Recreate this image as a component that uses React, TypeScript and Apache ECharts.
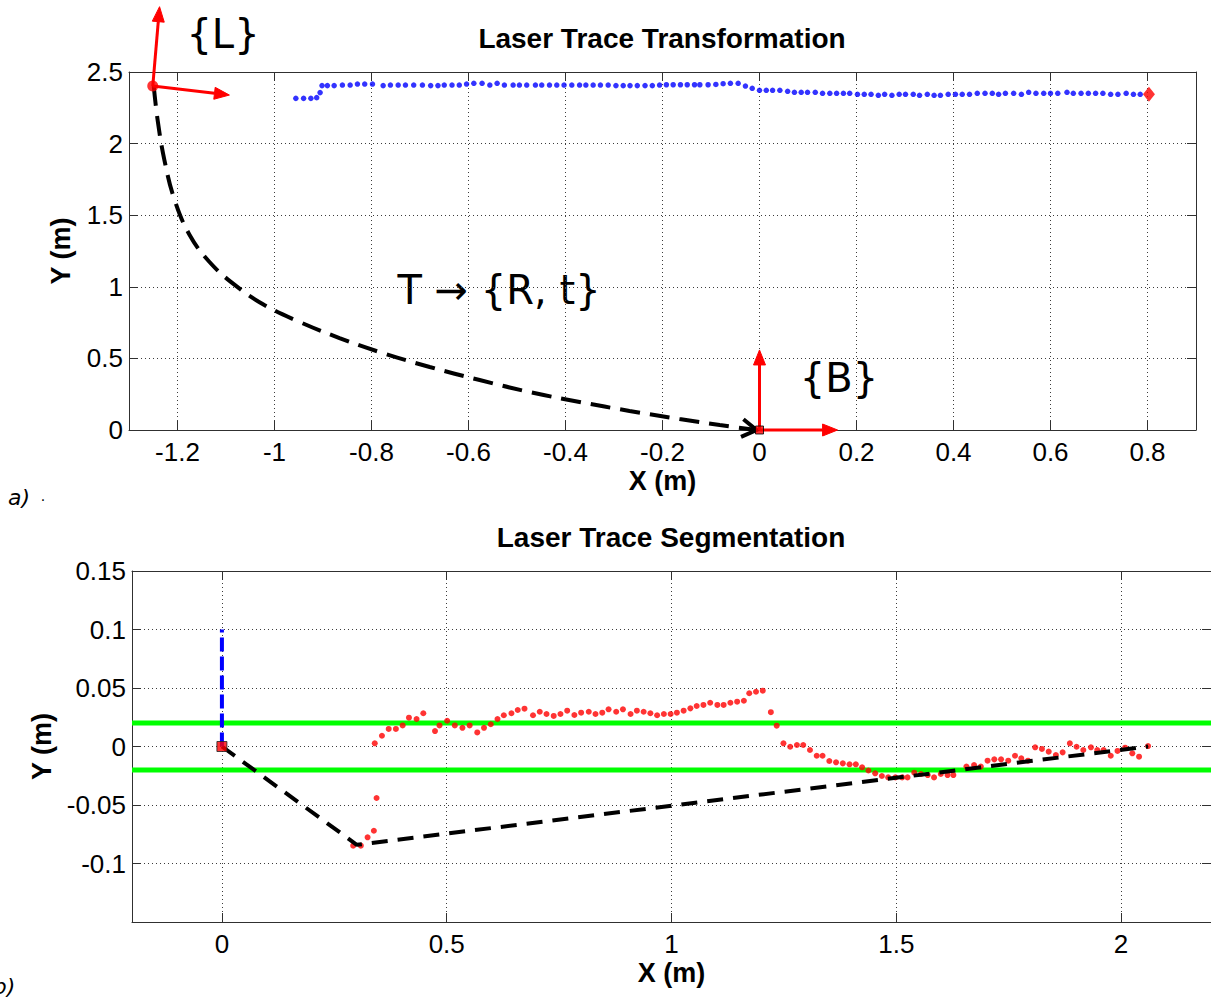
import { useEffect, useRef } from "react";
import * as echarts from "echarts";

const SANS = "'Liberation Sans', Arial, Helvetica, sans-serif";
const ANNO = "'DejaVu Sans', Verdana, sans-serif";

// Laser trace expressed in the base frame {B} (metres)
const traceX = [
  -0.956, -0.94, -0.925, -0.913, -0.906, -0.902, -0.891, -0.877, -0.86, -0.844,
  -0.829, -0.814, -0.798, -0.776, -0.761, -0.745, -0.73, -0.713, -0.695, -0.678,
  -0.663, -0.65, -0.634, -0.619, -0.604, -0.589, -0.572, -0.556, -0.541, -0.526,
  -0.508, -0.495, -0.48, -0.462, -0.449, -0.433, -0.418, -0.403, -0.387, -0.371,
  -0.358, -0.343, -0.328, -0.312, -0.296, -0.281, -0.267, -0.252, -0.236, -0.221,
  -0.206, -0.192, -0.178, -0.163, -0.149, -0.134, -0.123, -0.106, -0.09, -0.075,
  -0.06, -0.044, -0.029, -0.015, 0.0, 0.014, 0.027, 0.042, 0.058, 0.072,
  0.086, 0.099, 0.115, 0.13, 0.145, 0.159, 0.173, 0.186, 0.202, 0.216,
  0.23, 0.245, 0.258, 0.273, 0.288, 0.301, 0.317, 0.33, 0.346, 0.36,
  0.373, 0.389, 0.404, 0.418, 0.433, 0.449, 0.465, 0.48, 0.493, 0.507,
  0.524, 0.54, 0.555, 0.57, 0.586, 0.6, 0.615, 0.634, 0.647, 0.663,
  0.678, 0.693, 0.708, 0.724, 0.739, 0.756, 0.771, 0.785,
];
const traceY = [
  2.316, 2.316, 2.316, 2.321, 2.356, 2.405, 2.405, 2.405, 2.409, 2.409,
  2.416, 2.416, 2.416, 2.405, 2.409, 2.409, 2.409, 2.409, 2.409, 2.405,
  2.405, 2.409, 2.409, 2.409, 2.416, 2.421, 2.421, 2.409, 2.421, 2.409,
  2.409, 2.409, 2.409, 2.409, 2.409, 2.409, 2.409, 2.409, 2.409, 2.409,
  2.409, 2.409, 2.409, 2.409, 2.405, 2.405, 2.405, 2.405, 2.405, 2.405,
  2.409, 2.411, 2.411, 2.411, 2.411, 2.411, 2.411, 2.411, 2.413, 2.418,
  2.421, 2.421, 2.402, 2.386, 2.372, 2.372, 2.372, 2.372, 2.365, 2.358,
  2.358, 2.358, 2.358, 2.351, 2.351, 2.351, 2.351, 2.351, 2.344, 2.344,
  2.344, 2.337, 2.344, 2.337, 2.344, 2.344, 2.344, 2.337, 2.344, 2.337,
  2.337, 2.344, 2.344, 2.344, 2.344, 2.351, 2.351, 2.351, 2.344, 2.351,
  2.351, 2.344, 2.358, 2.351, 2.351, 2.351, 2.351, 2.358, 2.351, 2.351,
  2.351, 2.351, 2.351, 2.344, 2.344, 2.351, 2.344, 2.344,
];
const traceEnd = [0.803, 2.344];

// Transformation T from {L} to {B}
const pathX = [
  -1.249, -1.241, -1.227, -1.206, -1.175, -1.134, -1.082, -1.021, -0.948, -0.866,
  -0.784, -0.68, -0.577, -0.474, -0.371, -0.268, -0.165, -0.082, -0.006,
];
const pathY = [
  2.402, 2.165, 1.885, 1.606, 1.362, 1.173, 1.013, 0.873, 0.754, 0.642,
  0.545, 0.44, 0.349, 0.265, 0.196, 0.133, 0.077, 0.035, 0.0,
];

// Frame axes drawn as arrows: [x0, y0, x1, y1]
const frameArrows = [
  [-1.251, 2.402, -1.237, 2.956],
  [-1.251, 2.402, -1.093, 2.339],
  [0, 0, 0, 0.559],
  [0, 0, 0.161, 0],
];
const laserOrigin = [-1.251, 2.402];
const baseOrigin = [0, 0];

// Segmentation of the trace (metres)
const segX = [
  0.292, 0.309, 0.324, 0.338, 0.344, 0.34, 0.356, 0.371, 0.387, 0.402,
  0.416, 0.433, 0.448, 0.474, 0.484, 0.501, 0.518, 0.535, 0.551, 0.568,
  0.583, 0.598, 0.613, 0.627, 0.644, 0.658, 0.673, 0.692, 0.707, 0.722,
  0.738, 0.753, 0.768, 0.784, 0.799, 0.816, 0.831, 0.846, 0.86, 0.877,
  0.892, 0.909, 0.923, 0.938, 0.953, 0.968, 0.983, 0.998, 1.012, 1.027,
  1.042, 1.056, 1.071, 1.086, 1.102, 1.116, 1.131, 1.146, 1.161, 1.173,
  1.188, 1.203, 1.221, 1.234, 1.249, 1.264, 1.279, 1.293, 1.308, 1.323,
  1.336, 1.351, 1.366, 1.381, 1.396, 1.41, 1.424, 1.438, 1.453, 1.468,
  1.482, 1.498, 1.513, 1.525, 1.54, 1.555, 1.57, 1.584, 1.599, 1.614,
  1.627, 1.656, 1.673, 1.688, 1.703, 1.718, 1.733, 1.749, 1.764, 1.778,
  1.793, 1.809, 1.824, 1.839, 1.855, 1.87, 1.886, 1.901, 1.916, 1.933,
  1.947, 1.961, 1.977, 1.992, 2.009, 2.025, 2.04, 2.06,
];
const segY = [
  -0.0848, -0.0848, -0.0776, -0.072, -0.044, 0.0027, 0.0092, 0.015, 0.015, 0.018,
  0.0246, 0.0235, 0.0284, 0.0132, 0.018, 0.022, 0.018, 0.016, 0.018, 0.012,
  0.016, 0.019, 0.0235, 0.0267, 0.0284, 0.0312, 0.0323, 0.0267, 0.0297, 0.0278,
  0.0261, 0.0278, 0.0306, 0.0269, 0.0289, 0.0297, 0.0278, 0.0289, 0.0318, 0.0297,
  0.0318, 0.0278, 0.0306, 0.0297, 0.0284, 0.0267, 0.0278, 0.0278, 0.0289, 0.0306,
  0.0326, 0.0346, 0.0355, 0.0374, 0.0355, 0.0355, 0.0374, 0.0383, 0.0391, 0.0455,
  0.0468, 0.0477, 0.0293, 0.0178, 0.0027, -0.0002, 0.0013, 0.0013, -0.003, -0.0079,
  -0.0079, -0.0124, -0.0135, -0.0144, -0.0152, -0.0152, -0.0178, -0.0205, -0.0229, -0.0252,
  -0.0264, -0.0264, -0.0264, -0.0264, -0.0224, -0.0235, -0.0244, -0.0264, -0.0235, -0.0244,
  -0.0244, -0.0172, -0.0158, -0.0172, -0.0121, -0.011, -0.011, -0.0121, -0.0079, -0.0101,
  -0.0121, -0.0007, -0.0021, -0.0044, -0.0073, -0.005, 0.0027, -0.0002, -0.003, -0.0007,
  -0.003, -0.003, -0.0079, -0.0038, -0.001, -0.0058, -0.0087, 0.0004,
];
const fitX = [0, 0.3, 2.06];
const fitY = [0, -0.084, 0];
const bandLimits = [0.02, -0.02];
const normalX = [0, 0];
const normalY = [0, 0.1];

const zip = (xs: number[], ys: number[]) => xs.map((x, i) => [x, ys[i]]);

const tickFont = { fontFamily: SANS, fontSize: 26, color: "#000" };
const nameFont = { fontFamily: SANS, fontSize: 27, fontWeight: "bold" as const, color: "#000" };
const boxColor = "#303030";
const gridLine = { show: true, lineStyle: { color: "#3c3c3c", width: 1, type: [1, 3] } };

function xAxisPair(grid: number, min: number, max: number, step: number) {
  const common = {
    type: "value" as const,
    gridIndex: grid,
    min,
    max,
    minInterval: step,
    maxInterval: step,
    axisLine: { show: true, onZero: false, lineStyle: { color: boxColor, width: 1 } },
    axisTick: { show: true, inside: true, length: 9, lineStyle: { color: boxColor } },
  };
  return [
    {
      ...common,
      position: "bottom" as const,
      name: "X (m)",
      nameLocation: "middle" as const,
      nameGap: 37,
      nameTextStyle: nameFont,
      axisLabel: { ...tickFont, margin: 9, showMinLabel: false, showMaxLabel: false },
      splitLine: gridLine,
    },
    {
      ...common,
      position: "top" as const,
      axisLabel: { show: false },
      splitLine: { show: false },
    },
  ];
}

function yAxisPair(grid: number, min: number, max: number, step: number, gap: number) {
  const common = {
    type: "value" as const,
    gridIndex: grid,
    min,
    max,
    interval: step,
    axisLine: { show: true, onZero: false, lineStyle: { color: boxColor, width: 1 } },
    axisTick: { show: true, inside: true, length: 9, lineStyle: { color: boxColor } },
  };
  return [
    {
      ...common,
      position: "left" as const,
      name: "Y (m)",
      nameLocation: "middle" as const,
      nameGap: gap,
      nameTextStyle: nameFont,
      axisLabel: { ...tickFont, margin: 6, showMinLabel: grid === 0 },
      splitLine: gridLine,
    },
    {
      ...common,
      position: "right" as const,
      axisLabel: { show: false },
      splitLine: { show: false },
    },
  ];
}

function arrowItem(params: any, api: any) {
  const s = api.coord([api.value(0), api.value(1)]);
  const e = api.coord([api.value(2), api.value(3)]);
  const dx = e[0] - s[0];
  const dy = e[1] - s[1];
  const len = Math.hypot(dx, dy) || 1;
  const ux = dx / len;
  const uy = dy / len;
  const head = 15;
  const half = 6;
  const bx = e[0] - ux * head;
  const by = e[1] - uy * head;
  return {
    type: "group",
    children: [
      {
        type: "line",
        shape: { x1: s[0], y1: s[1], x2: bx, y2: by },
        style: { stroke: "#ff0000", lineWidth: 3 },
      },
      {
        type: "polygon",
        shape: {
          points: [
            [e[0], e[1]],
            [bx - uy * half, by + ux * half],
            [bx + uy * half, by - ux * half],
          ],
        },
        style: { fill: "#ff0000", stroke: "#ff0000", lineWidth: 1 },
      },
    ],
  };
}

function chevronItem(params: any, api: any) {
  const n = pathX.length;
  const tip = api.coord([pathX[n - 1], pathY[n - 1]]);
  const prev = api.coord([pathX[n - 2], pathY[n - 2]]);
  const ang = Math.atan2(tip[1] - prev[1], tip[0] - prev[0]);
  const arm = 17;
  const spread = 0.55;
  return {
    type: "polyline",
    shape: {
      points: [
        [tip[0] - arm * Math.cos(ang - spread), tip[1] - arm * Math.sin(ang - spread)],
        [tip[0], tip[1]],
        [tip[0] - arm * Math.cos(ang + spread), tip[1] - arm * Math.sin(ang + spread)],
      ],
    },
    style: { stroke: "#000", lineWidth: 4, fill: "none" },
  };
}

export default function App() {
  const ref = useRef<HTMLDivElement>(null);

  useEffect(() => {
    if (!ref.current) return;
    const chart = echarts.init(ref.current, null, { renderer: "svg" });

    const textEl = (text: string, x: number, y: number, style: any) => ({
      type: "text",
      x,
      y,
      style: { text, fill: "#000", textAlign: "center", textVerticalAlign: "middle", ...style },
    });

    chart.setOption({
      animation: false,
      backgroundColor: "#fff",
      textStyle: { fontFamily: SANS },
      grid: [
        { left: 129, top: 72, width: 1067, height: 358 },
        { left: 132, top: 571, width: 1081, height: 351 },
      ],
      xAxis: [...xAxisPair(0, -1.3, 0.9, 0.2), ...xAxisPair(1, -0.2, 2.2, 0.5)],
      yAxis: [...yAxisPair(0, 0, 2.5, 0.5, 55), ...yAxisPair(1, -0.15, 0.15, 0.05, 58)],
      graphic: [
        textEl("Laser Trace Transformation", 662, 38, { font: `bold 28px ${SANS}` }),
        textEl("Laser Trace Segmentation", 671, 537, { font: `bold 28px ${SANS}` }),
        textEl("{L}", 223, 34, { font: `40px ${ANNO}` }),
        textEl("T \u2192 {R, t}", 499, 290, { font: `40px ${ANNO}` }),
        textEl("{B}", 839, 378, { font: `40px ${ANNO}` }),
        textEl("a)", 19, 497, { font: `italic 22px ${ANNO}` }),
        textEl(".", 43, 496, { font: `14px ${ANNO}` }),
        textEl("b)", 4, 986, { font: `italic 22px ${ANNO}` }),
      ],
      series: [
        // ---- top: transformation ----
        {
          type: "scatter",
          xAxisIndex: 0,
          yAxisIndex: 0,
          data: zip(traceX, traceY),
          symbol: "circle",
          symbolSize: 5.5,
          itemStyle: { color: "#0000ff" },
          z: 3,
        },
        {
          type: "scatter",
          xAxisIndex: 0,
          yAxisIndex: 0,
          data: [traceEnd],
          symbol: "diamond",
          symbolSize: [12, 15],
          itemStyle: { color: "#ff0000" },
          z: 4,
        },
        {
          type: "line",
          xAxisIndex: 0,
          yAxisIndex: 0,
          data: zip(pathX, pathY),
          smooth: 0.4,
          showSymbol: false,
          symbol: "none",
          lineStyle: { color: "#000", width: 4, type: [20, 10] },
          z: 5,
        },
        {
          type: "custom",
          xAxisIndex: 0,
          yAxisIndex: 0,
          data: [[pathX[pathX.length - 1], pathY[pathY.length - 1]]],
          renderItem: chevronItem,
          z: 6,
        },
        {
          type: "custom",
          xAxisIndex: 0,
          yAxisIndex: 0,
          data: frameArrows,
          encode: { x: [0, 2], y: [1, 3] },
          renderItem: arrowItem,
          clip: false,
          z: 7,
        },
        {
          type: "scatter",
          xAxisIndex: 0,
          yAxisIndex: 0,
          data: [laserOrigin],
          symbol: "circle",
          symbolSize: 11,
          itemStyle: { color: "#ff0000" },
          z: 8,
        },
        {
          type: "scatter",
          xAxisIndex: 0,
          yAxisIndex: 0,
          data: [baseOrigin],
          symbol: "rect",
          symbolSize: 8,
          itemStyle: { color: "#ff0000", borderColor: "#000", borderWidth: 1 },
          z: 8,
        },
        // ---- bottom: segmentation ----
        ...bandLimits.map((lim) => ({
          type: "line",
          xAxisIndex: 2,
          yAxisIndex: 2,
          data: [
            [-0.2, lim],
            [2.2, lim],
          ],
          showSymbol: false,
          symbol: "none",
          lineStyle: { color: "#00ff00", width: 5 },
          z: 2,
        })),
        {
          type: "scatter",
          xAxisIndex: 2,
          yAxisIndex: 2,
          data: zip(segX, segY),
          symbol: "circle",
          symbolSize: 6,
          itemStyle: { color: "#ff0000" },
          z: 3,
        },
        {
          type: "line",
          xAxisIndex: 2,
          yAxisIndex: 2,
          data: zip(fitX, fitY),
          showSymbol: false,
          symbol: "none",
          lineStyle: { color: "#000", width: 4, type: [16, 10] },
          z: 4,
        },
        {
          type: "line",
          xAxisIndex: 2,
          yAxisIndex: 2,
          data: zip(normalX, normalY),
          showSymbol: false,
          symbol: "none",
          lineStyle: { color: "#0000ff", width: 4, type: [14, 5] },
          z: 5,
        },
        {
          type: "scatter",
          xAxisIndex: 2,
          yAxisIndex: 2,
          data: [baseOrigin],
          symbol: "rect",
          symbolSize: 10,
          itemStyle: { color: "#ff0000", borderColor: "#222", borderWidth: 1 },
          z: 6,
        },
      ],
    });

    return () => chart.dispose();
  }, []);

  return (
    <div
      ref={ref}
      style={{ position: "absolute", left: 0, top: 0, width: 1211, height: 997, background: "#fff" }}
    />
  );
}
